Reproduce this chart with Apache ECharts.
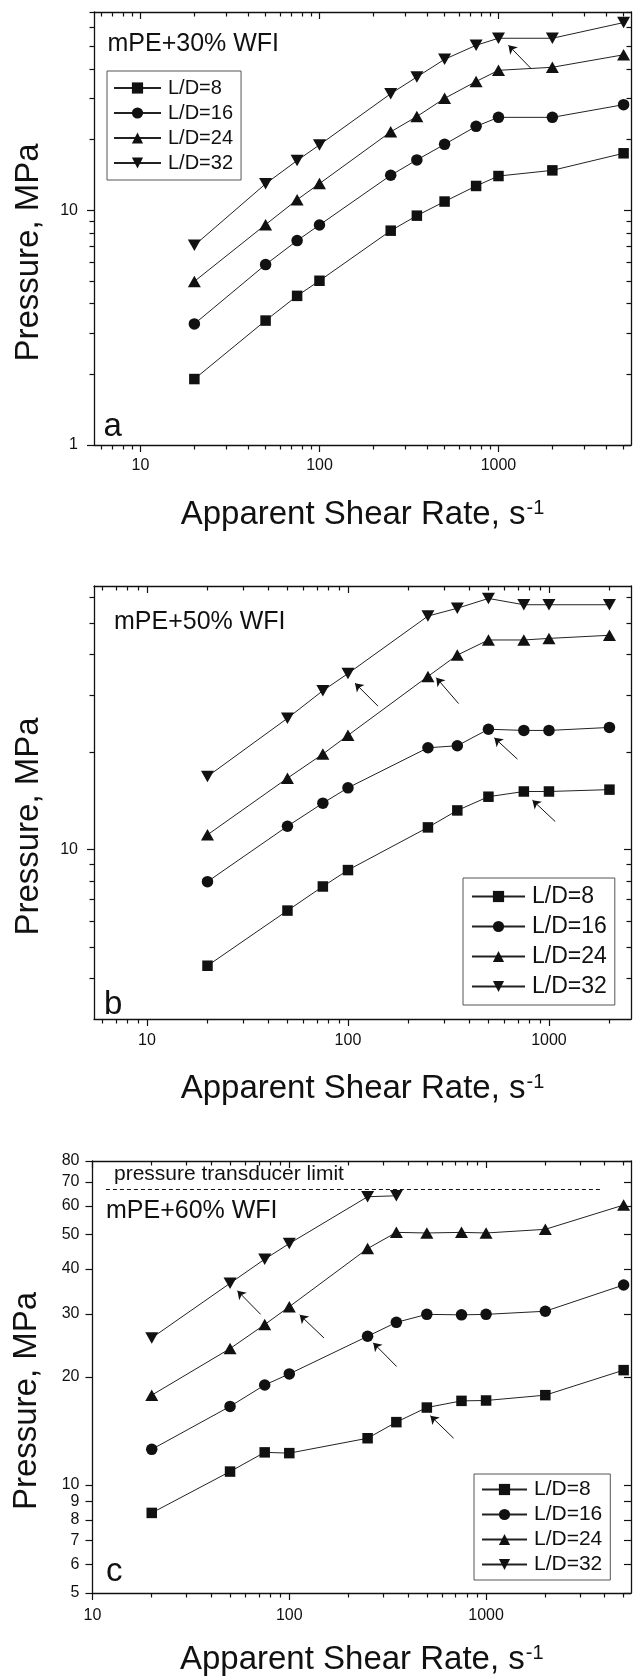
<!DOCTYPE html>
<html lang="en">
<head>
<meta charset="UTF-8">
<title>Pressure vs apparent shear rate</title>
<script src="https://cdn.jsdelivr.net/npm/echarts@6/dist/echarts.min.js"></script>
<style>
    *{
        margin:0;
        padding:0;
    }
    html,body{
        width:636px;
        height:1677px;
        background:#fff;
        overflow:hidden;
    }
    #main{
        width:636px;
        height:1677px;
    }
</style>
</head>
<body>
<div id="main"></div>
<script>
var FONT = '"Liberation Sans", Arial, sans-serif'
var INK = '#111'

var names = ['L/D=8', 'L/D=16', 'L/D=24', 'L/D=32']

// panel a : mPE+30% WFI
var rateA = [20, 50, 75, 100, 250, 350, 500, 750, 1000, 2000, 5000]
var a_ld8 = [1.91, 3.39, 4.32, 5.01, 8.19, 9.49, 10.9, 12.7, 14.0, 14.8, 17.5]
var a_ld16 = [3.28, 5.87, 7.43, 8.66, 14.1, 16.4, 19.1, 22.8, 24.9, 24.9, 28.2]
var a_ld24 = [4.98, 8.69, 11.1, 13.0, 21.6, 25.1, 30.0, 35.4, 39.5, 40.7, 46.0]
var a_ld32 = [7.09, 12.97, 16.3, 19.0, 31.4, 37.0, 44.0, 50.5, 54.1, 54.1, 63.1]

// panel b : mPE+50% WFI
var rateB = [20, 50, 75, 100, 250, 350, 500, 750, 1000, 2000]
var b_ld8 = [4.38, 6.48, 7.69, 8.64, 11.7, 13.2, 14.55, 15.1, 15.1, 15.3]
var b_ld16 = [7.96, 11.8, 13.9, 15.5, 20.6, 20.9, 23.5, 23.3, 23.3, 23.8]
var b_ld24 = [11.1, 16.6, 19.7, 22.5, 34.2, 39.8, 44.3, 44.3, 44.8, 45.8]
var b_ld32 = [16.8, 25.4, 30.9, 34.9, 52.5, 55.5, 59.5, 56.9, 56.9, 56.9]

// panel c : mPE+60% WFI
var rateC = [20, 50, 75, 100, 250, 350, 500, 750, 1000, 2000, 5000]
var c_ld8 = [8.36, 10.9, 12.33, 12.27, 13.5, 14.97, 16.44, 17.16, 17.2, 17.8, 20.9]
var c_ld16 = [12.57, 16.56, 19.0, 20.4, 25.97, 28.4, 29.9, 29.8, 29.9, 30.5, 36.1]
var c_ld24 = [17.8, 24.0, 28.0, 31.4, 45.6, 50.6, 50.4, 50.6, 50.4, 51.6, 60.3]
var c_ld32 = [25.7, 36.5, 42.6, 47.1, 63.6, 64.0]

// arrows [from, to] and the transducer limit line, in data units
var arrowsA = [[[1520, 40.2], [1137, 50.5]]]
var arrowsB = [[[141, 27.7], [108.4, 32.6]], [[355, 28.2], [275, 33.9]], [[697, 19.0], [535, 22.1]], [[1074, 12.2], [828, 14.2]]]
var arrowsC = [[[71.5, 29.9], [54.5, 34.8]], [[150, 25.7], [113, 29.8]], [[351, 21.4], [267, 24.9]], [[684, 13.5], [521, 15.6]]]
var limitC = [[11.7, 66.9], [3846, 66.9]]

// tick marks
var xMajor = [10, 100, 1000]
var xMinorAB = [6, 7, 8, 9, 20, 30, 40, 50, 60, 70, 80, 90, 200, 300, 400, 500, 600, 700, 800, 900, 2000, 3000, 4000, 5000]
var xMinorC = [20, 30, 40, 50, 60, 70, 80, 90, 200, 300, 400, 500, 600, 700, 800, 900, 2000, 3000, 4000, 5000]
var yMajorA = [1, 10]
var yMinorA = [2, 3, 4, 5, 6, 7, 8, 9, 20, 30, 40, 50, 60, 70]
var yMajorB = [10]
var yMinorB = [4, 5, 6, 7, 8, 9, 20, 30, 40, 50, 60]
var yMajorC = [5, 6, 7, 8, 9, 10, 20, 30, 40, 50, 60, 70, 80]

var grids = [
    {left: 94, top: 12, width: 537, height: 433},
    {left: 94, top: 586, width: 537, height: 433},
    {left: 92.5, top: 1161, width: 538.5, height: 433}
]

function fmt(v){
    return String(Math.round(v))
}

// 4 overlapping axes per side pair: outer major, outer minor, mirrored major, mirrored minor
function axisSet(dim, grid, range, major, minor, nameOpt, margin){
    var sides = dim === 'x' ? ['bottom', 'top'] : ['left', 'right']
    var list = []
    for (var s = 0; s < 2; s++){
        for (var m = 0; m < 2; m++){
            var ticks = m === 0 ? major : minor
            var ax = {
                type: 'log',
                gridIndex: grid,
                position: sides[s],
                min: range[0],
                max: range[1],
                silent: true,
                splitLine: {show: false},
                axisLine: {show: m === 0, onZero: false, lineStyle: {color: INK, width: 1.3}},
                axisTick: {
                    show: ticks.length > 0,
                    inside: s === 1,
                    length: m === 0 ? 7 : 4.5,
                    customValues: ticks,
                    lineStyle: {color: INK, width: 1.2}
                },
                axisLabel: {show: false}
            }
            if (s === 0 && m === 0){
                ax.axisLabel = {
                    show: true,
                    customValues: major,
                    formatter: fmt,
                    margin: margin,
                    fontSize: 16,
                    fontFamily: FONT,
                    color: INK
                }
                Object.assign(ax, nameOpt)
            }
            list.push(ax)
        }
    }
    return list
}

function xName(gap){
    return {
        name: '{a|Apparent Shear Rate, s}{b|-1}',
        nameLocation: 'middle',
        nameGap: gap,
        nameTextStyle: {
            rich: {
                a: {fontSize: 33, fontFamily: FONT, color: INK},
                b: {fontSize: 20, fontFamily: FONT, color: INK, verticalAlign: 'top', padding: [0, 0, 0, 1]}
            }
        }
    }
}
var yName = {
    name: 'Pressure, MPa',
    nameLocation: 'middle',
    nameGap: 49,
    nameTextStyle: {fontSize: 33, fontFamily: FONT, color: INK, padding: [0, 48, 0, 0]}
}

var xAxes = []
    .concat(axisSet('x', 0, [5.5, 5500], xMajor, xMinorAB, xName(53), 13))
    .concat(axisSet('x', 1, [5.45, 2560], xMajor, xMinorAB, xName(53), 14))
    .concat(axisSet('x', 2, [10, 5450], xMajor, xMinorC, xName(50), 15))
var yAxes = []
    .concat(axisSet('y', 0, [1, 70], yMajorA, yMinorA, yName, 16))
    .concat(axisSet('y', 1, [3.0, 65], yMajorB, yMinorB, yName, 16))
    .concat(axisSet('y', 2, [5, 80], yMajorC, [], yName, 13))

var marks = [
    {symbol: 'rect', size: 10.5, rot: 0},
    {symbol: 'circle', size: 11.5, rot: 0},
    {symbol: 'triangle', size: [13, 11.5], rot: 0},
    {symbol: 'triangle', size: [13, 11.5], rot: 180}
]

function pts(xs, ys){
    return ys.map(function(y, i){ return [xs[i], y] })
}

function arrowLine(list){
    return {
        silent: true,
        animation: false,
        symbol: ['none', 'arrow'],
        symbolSize: 8,
        label: {show: false},
        lineStyle: {color: INK, width: 1, type: 'solid'},
        emphasis: {disabled: true},
        data: list.map(function(a){ return [{coord: a[0]}, {coord: a[1]}] })
    }
}

var panels = [
    {rate: rateA, sets: [a_ld8, a_ld16, a_ld24, a_ld32], arrows: arrowsA},
    {rate: rateB, sets: [b_ld8, b_ld16, b_ld24, b_ld32], arrows: arrowsB},
    {rate: rateC, sets: [c_ld8, c_ld16, c_ld24, c_ld32], arrows: arrowsC}
]

var series = []
panels.forEach(function(p, g){
    p.sets.forEach(function(vals, k){
        var s = {
            type: 'line',
            name: names[k],
            xAxisIndex: g * 4,
            yAxisIndex: g * 4,
            data: pts(p.rate, vals),
            symbol: marks[k].symbol,
            symbolSize: marks[k].size,
            symbolRotate: marks[k].rot,
            showSymbol: true,
            itemStyle: {color: INK},
            lineStyle: {color: '#222', width: 1},
            emphasis: {disabled: true},
            animation: false
        }
        if (k === 3) s.markLine = arrowLine(p.arrows)
        if (g === 2 && k === 2){
            s.markLine = {
                silent: true,
                animation: false,
                symbol: ['none', 'none'],
                label: {show: false},
                lineStyle: {color: INK, width: 1, type: [4, 3]},
                emphasis: {disabled: true},
                data: [[{coord: limitC[0]}, {coord: limitC[1]}]]
            }
        }
        series.push(s)
    })
})

function legendAt(left, top, fontSize, gap, itemWidth, pad){
    return {
        data: names,
        orient: 'vertical',
        left: left,
        top: top,
        padding: pad,
        itemGap: gap,
        itemWidth: itemWidth,
        itemHeight: 14,
        selectedMode: false,
        borderColor: '#555',
        borderWidth: 1,
        textStyle: {fontSize: fontSize, fontFamily: FONT, color: INK, padding: [0, 0, 0, 2]}
    }
}

// free text placed as title components (left / top of the text box)
function note(text, left, top, size){
    return {
        text: text,
        left: left,
        top: top,
        padding: 0,
        textStyle: {fontSize: size, fontFamily: FONT, fontWeight: 'normal', color: INK}
    }
}

var chart = echarts.init(document.getElementById('main'))
chart.setOption({
    animation: false,
    title: [
        note('mPE+30% WFI', 107.5, 31.8, 25),
        note('a', 103.5, 410, 33),
        note('mPE+50% WFI', 114, 610, 25),
        note('b', 104, 988.5, 33),
        note('pressure transducer limit', 114, 1164, 21),
        note('mPE+60% WFI', 106, 1198.5, 25),
        note('c', 106, 1555, 33)
    ],
    grid: grids,
    xAxis: xAxes,
    yAxis: yAxes,
    legend: [
        legendAt(107, 71, 20, 5, 47, [7, 8, 7, 6]),
        legendAt(463, 878, 23, 7, 53, [7, 8, 7, 8]),
        legendAt(474, 1474, 21, 4, 45, [5, 8, 5, 7])
    ],
    series: series
})
</script>
</body>
</html>
